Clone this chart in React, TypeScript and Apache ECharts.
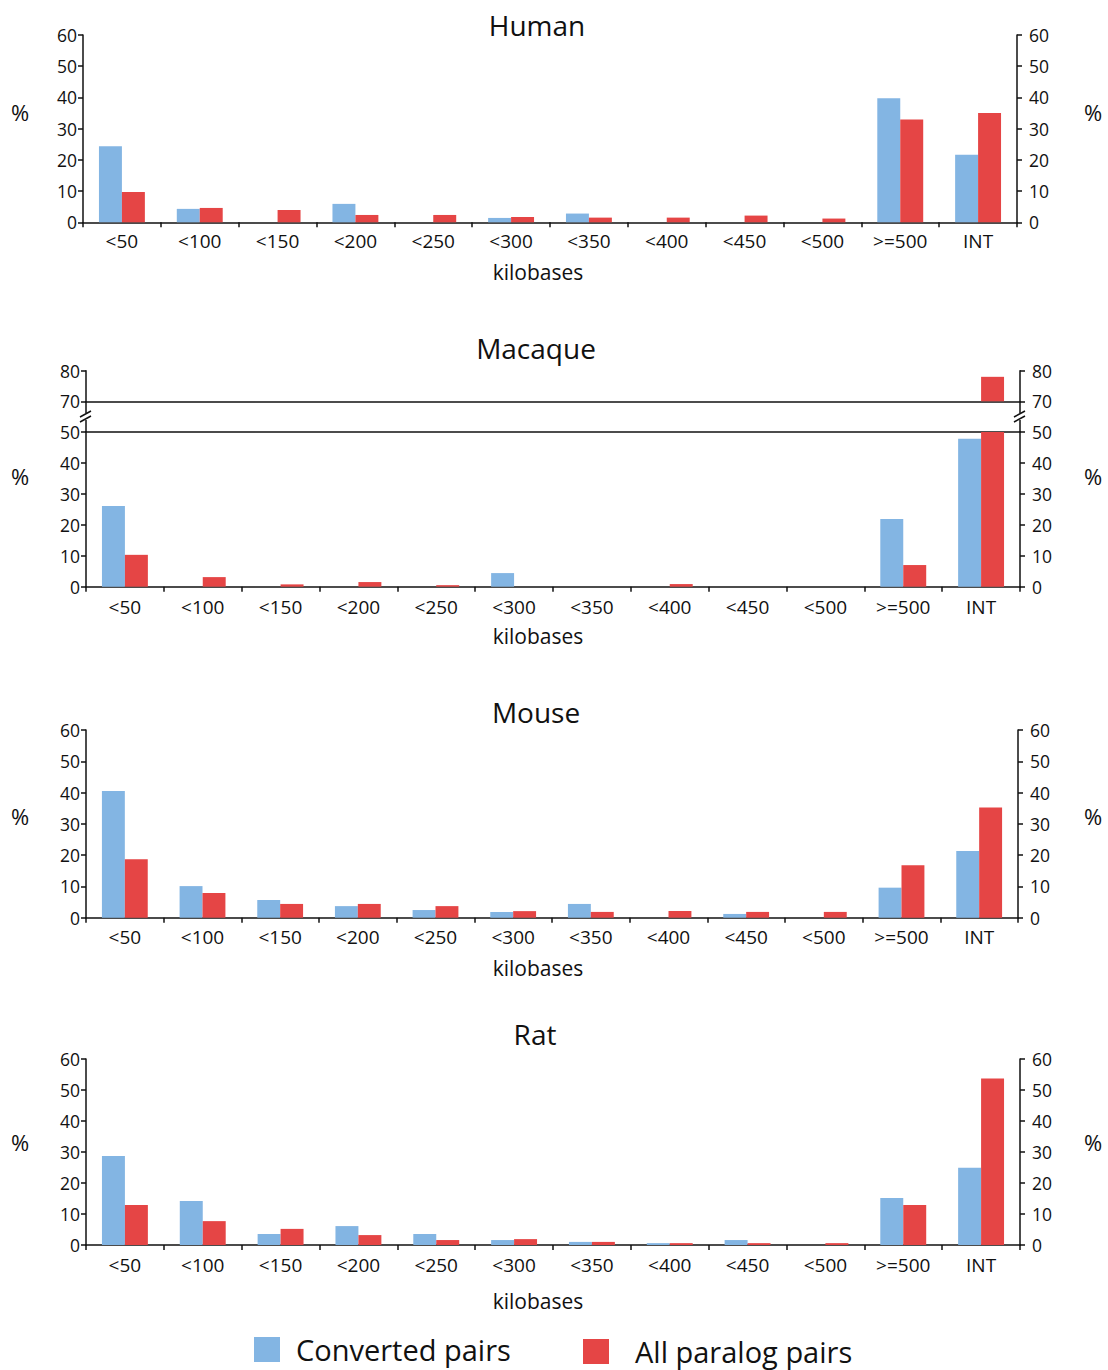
import React, { useEffect, useRef } from "react";
import * as echarts from "echarts";

const categories = ["<50", "<100", "<150", "<200", "<250", "<300", "<350", "<400", "<450", "<500", ">=500", "INT"];
const seriesNames = ["Converted pairs", "All paralog pairs"];

const humanConverted = [24.4, 4.3, 0, 5.9, 0, 1.4, 2.8, 0, 0, 0, 39.7, 21.6];
const humanAll = [9.7, 4.6, 3.95, 2.35, 2.35, 1.7, 1.5, 1.5, 2.15, 1.2, 32.9, 35.0];
const macaqueConverted = [26.1, 0, 0, 0, 0, 4.4, 0, 0, 0, 0, 21.9, 47.8];
const macaqueAll = [10.3, 3.1, 0.75, 1.5, 0.5, 0, 0, 0.85, 0, 0, 7.0, 78];
const mouseConverted = [40.5, 10.1, 5.65, 3.7, 2.45, 1.8, 4.4, 0, 1.2, 0, 9.6, 21.3];
const mouseAll = [18.7, 7.9, 4.4, 4.4, 3.7, 2.1, 1.85, 2.15, 1.85, 1.85, 16.8, 35.2];
const ratConverted = [28.7, 14.2, 3.55, 6.1, 3.55, 1.6, 1.0, 0.6, 1.6, 0, 15.2, 24.9];
const ratAll = [12.9, 7.7, 5.2, 3.2, 1.6, 1.9, 1.0, 0.6, 0.6, 0.6, 12.9, 53.7];

const panelTitles = ["Human", "Macaque", "Mouse", "Rat"];
const xAxisTitle = "kilobases";
const yAxisTitle = "%";

const BLUE = "#83B5E3";
const RED = "#E54545";
const INK = "#111";
const FONT = "'Open Sans', 'DejaVu Sans', sans-serif";

export default function App() {
  const ref = useRef<HTMLDivElement>(null);

  useEffect(() => {
    if (!ref.current) return;
    const chart = echarts.init(ref.current, undefined, { renderer: "svg" });

    // grid layout: Human, Macaque top, Macaque bottom, Mouse, Rat
    const grids = [
      { left: 83, right: 91, top: 35, height: 187.3 },
      { left: 86, right: 88, top: 370.7, height: 30.6 },
      { left: 86, right: 88, top: 432, height: 154.7 },
      { left: 86, right: 90, top: 730, height: 187.7 },
      { left: 86, right: 88, top: 1059, height: 186 },
    ];

    const lineStyle = { color: INK, width: 1.5 };

    const xBase = (gridIndex: number, opts: any = {}) => ({
      type: "category",
      gridIndex,
      data: categories,
      position: "bottom",
      axisLine: { show: true, onZero: false, lineStyle },
      axisTick: { show: true, length: 5, lineStyle },
      axisLabel: { show: true, interval: 0, fontSize: 19, color: INK, fontFamily: FONT, margin: 10 },
      splitLine: { show: false },
      ...opts,
    });

    const noLabels = {
      axisTick: { show: false },
      axisLabel: { show: false },
    };

    const xAxis = [
      xBase(0, { axisLabel: { show: true, interval: 0, fontSize: 19, color: INK, fontFamily: FONT, margin: 9 } }),
      xBase(1, noLabels),
      xBase(2, { axisLabel: { show: true, interval: 0, fontSize: 19, color: INK, fontFamily: FONT, margin: 11 } }),
      xBase(2, { position: "top", ...noLabels }),
      xBase(3),
      xBase(4),
    ];

    const yPair = (gridIndex: number, min: number, max: number) =>
      ["left", "right"].map((pos) => ({
        type: "value",
        gridIndex,
        position: pos,
        min,
        max,
        interval: 10,
        splitLine: { show: false },
        axisLine: { show: true, onZero: false, lineStyle },
        axisTick: { show: true, length: 5, lineStyle },
        axisLabel: {
          show: true,
          fontSize: 17.5,
          color: INK,
          fontFamily: FONT,
          margin: pos === "left" ? 6 : 12,
        },
      }));

    const yAxis = [
      ...yPair(0, 0, 60),
      ...yPair(1, 70, 80),
      ...yPair(2, 0, 50),
      ...yPair(3, 0, 60),
      ...yPair(4, 0, 60),
    ];

    const data = [
      [humanConverted, humanAll, 0, 0],
      [macaqueConverted, macaqueAll, 1, 2],
      [macaqueConverted, macaqueAll, 2, 4],
      [mouseConverted, mouseAll, 4, 6],
      [ratConverted, ratAll, 5, 8],
    ] as const;

    const series: any[] = [];
    data.forEach(([conv, all, xi, yi]) => {
      [conv, all].forEach((vals, k) => {
        series.push({
          type: "bar",
          name: seriesNames[k],
          xAxisIndex: xi,
          yAxisIndex: yi,
          data: vals,
          barWidth: "29.5%",
          barGap: "0%",
          clip: true,
          itemStyle: { color: k === 0 ? BLUE : RED },
          emphasis: { disabled: true },
        });
      });
    });

    const text = (t: string, x: number, y: number, size: number) => ({
      type: "text",
      x,
      y,
      silent: true,
      style: {
        text: t,
        fontSize: size,
        fontFamily: FONT,
        fill: INK,
        textAlign: "center",
        textVerticalAlign: "middle",
      },
    });

    const titleY = [25, 348, 712, 1034];
    const titleX = [537, 536, 536, 535];
    const kbY = [272, 636, 968, 1301];
    const pctY = [112, 476, 816, 1142];

    const graphic: any[] = [];
    panelTitles.forEach((t, i) => {
      graphic.push(text(t, titleX[i], titleY[i], 28));
      graphic.push(text(xAxisTitle, 538, kbY[i], 21));
      graphic.push(text(yAxisTitle, 20, pctY[i], 22));
      graphic.push(text(yAxisTitle, 1093, pctY[i], 22));
    });

    // Macaque axis break marks
    const ln = (x1: number, y1: number, x2: number, y2: number) => ({
      type: "line",
      silent: true,
      shape: { x1, y1, x2, y2 },
      style: { stroke: INK, lineWidth: 1.5 },
    });
    [86, 1020].forEach((ax) => {
      graphic.push(ln(ax, 401.3, ax, 413));
      graphic.push(ln(ax, 420, ax, 432));
      graphic.push(ln(ax - 6, 417, ax + 5, 411));
      graphic.push(ln(ax - 6, 422, ax + 5, 416));
    });

    const legendBase = (padLeft: number) => ({
      orient: "horizontal",
      padding: 0,
      itemWidth: 26,
      itemHeight: 25,
      icon: "rect",
      selectedMode: false,
      textStyle: { fontSize: 29, color: INK, fontFamily: FONT, padding: [0, 0, 0, padLeft] },
    });

    const option: any = {
      animation: false,
      backgroundColor: "#fff",
      grid: grids.map((g) => ({ ...g, containLabel: false, outerBoundsMode: "none" })),
      xAxis,
      yAxis,
      series,
      legend: [
        { ...legendBase(11), left: 254, top: 1335, data: [seriesNames[0]] },
        { ...legendBase(21), left: 583, top: 1337, data: [seriesNames[1]] },
      ],
      graphic,
    };

    chart.setOption(option);
    return () => chart.dispose();
  }, []);

  return (
    <div
      ref={ref}
      style={{ position: "absolute", left: 0, top: 0, width: 1108, height: 1370, background: "#fff" }}
    />
  );
}
